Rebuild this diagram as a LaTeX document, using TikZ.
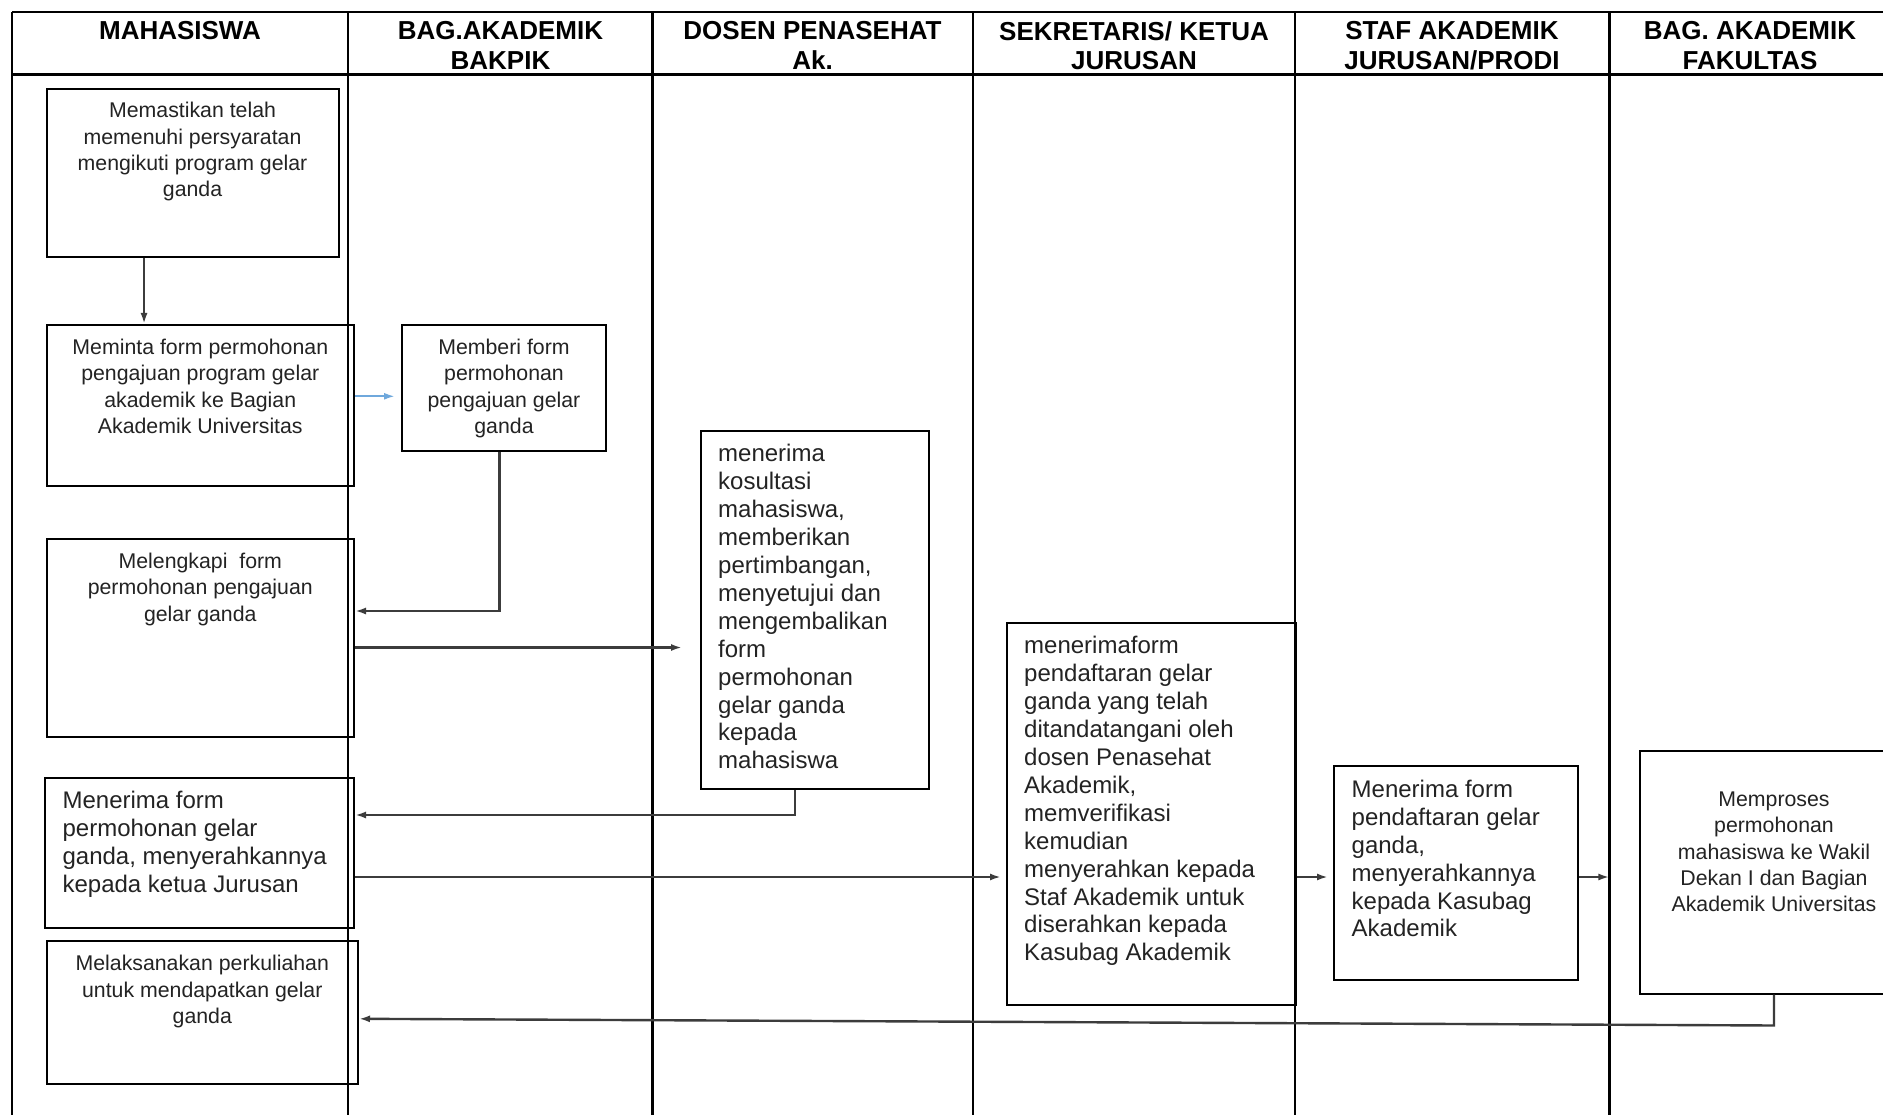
\documentclass[tikz,border=0pt]{standalone}
\usepackage{fontspec}
\setmainfont{Liberation Sans}
\usetikzlibrary{arrows.meta}

\definecolor{connc}{RGB}{60,60,60}
\definecolor{bluec}{RGB}{111,168,220}
\definecolor{txtc}{RGB}{35,35,35}

\begin{document}
\begin{tikzpicture}[x=1pt,y=-1pt,
  lane/.style={line width=2.4pt, draw=black},
  box/.style={draw=black, line width=2pt, inner sep=0pt, anchor=north west},
  head/.style={font=\fontsize{26}{29.5}\selectfont\bfseries, align=center, anchor=north, inner sep=0pt},
  smalltxt/.style={font=\fontsize{21.3}{26.4}\selectfont, text=txtc, align=center, anchor=north, inner sep=0pt},
  bigtxt/.style={font=\fontsize{24}{27.9}\selectfont, text=txtc, align=left, anchor=north west, inner sep=0pt},
  conn/.style={draw=connc, line width=2.4pt, -{Latex[length=11pt,width=7pt]}},
]
\useasboundingbox (0,0) rectangle (1883,1115);
\clip (0,0) rectangle (1883,1115);
\fill[white] (0,0) rectangle (1883,1115);

% swimlane frame
\draw[lane] (12,12) -- (1883,12);
\draw[lane] (12,74.5) -- (1883,74.5);
\foreach \lx in {12,348,652.5,973,1295,1609.5}{
  \draw[lane] (\lx,12) -- (\lx,1115);
}

% headers
\node[head] (h1) at (180,21.2) {MAHASISWA};
\node[head] (h2) at (500.5,21.2) {BAG.AKADEMIK\\BAKPIK};
\node[head] (h3) at (812.5,21.2) {DOSEN PENASEHAT\\Ak.};
\node[head] (h4) at (1134,21.2) {SEKRETARIS/ KETUA\\JURUSAN};
\node[head] (h5) at (1452,21.2) {STAF AKADEMIK\\JURUSAN/PRODI};
\node[head] (h6) at (1750,21.2) {BAG. AKADEMIK\\FAKULTAS};

% boxes
\node[box, minimum width=291.9pt, minimum height=168.1pt] (b1) at (45.6,87.7) {};
\node[box, minimum width=307.4pt, minimum height=161pt] (b2) at (45.6,324) {};
\node[box, minimum width=204pt, minimum height=126pt] (b3) at (401,324) {};
\node[box, minimum width=307.4pt, minimum height=198pt] (b4) at (45.6,538) {};
\node[box, minimum width=228pt, minimum height=358pt] (b5) at (700,430) {};
\node[box, minimum width=308.6pt, minimum height=150pt] (b6) at (44.4,777) {};
\node[box, minimum width=288.6pt, minimum height=382pt] (b7) at (1006,622) {};
\node[box, minimum width=244pt, minimum height=214pt] (b8) at (1333,765) {};
\node[box, minimum width=268pt, minimum height=243pt] (b9) at (1639,749.5) {};
\node[box, minimum width=311.4pt, minimum height=143pt] (b10) at (45.6,940.3) {};

% texts
\node[smalltxt] (t1) at ([yshift=-14.4pt]b1.north) {Memastikan telah\\memenuhi persyaratan\\mengikuti program gelar\\ganda};
\node[smalltxt] (t2) at ([yshift=-14.9pt]b2.north) {Meminta form permohonan\\pengajuan program gelar\\akademik ke Bagian\\Akademik Universitas};
\node[smalltxt] (t3) at ([yshift=-14.9pt]b3.north) {Memberi form\\permohonan\\pengajuan gelar\\ganda};
\node[smalltxt] (t4) at ([yshift=-14.9pt]b4.north) {Melengkapi\ \ form\\permohonan pengajuan\\gelar ganda};
\node[bigtxt] (t5) at ([xshift=18pt,yshift=-14.4pt]b5.north west) {menerima\\kosultasi\\mahasiswa,\\memberikan\\pertimbangan,\\menyetujui dan\\mengembalikan\\form\\permohonan\\gelar ganda\\kepada\\mahasiswa};
\node[bigtxt] (t6) at ([xshift=18pt,yshift=-14.4pt]b6.north west) {Menerima form\\permohonan gelar\\ganda, menyerahkannya\\kepada ketua Jurusan};
\node[bigtxt] (t7) at ([xshift=18pt,yshift=-14.4pt]b7.north west) {menerimaform\\pendaftaran gelar\\ganda yang telah\\ditandatangani oleh\\dosen Penasehat\\Akademik,\\memverifikasi\\kemudian\\menyerahkan kepada\\Staf Akademik untuk\\diserahkan kepada\\Kasubag Akademik};
\node[bigtxt] (t8) at ([xshift=18.5pt,yshift=-14.9pt]b8.north west) {Menerima form\\pendaftaran gelar\\ganda,\\menyerahkannya\\kepada Kasubag\\Akademik};
\node[smalltxt] (t9) at ([yshift=-42pt]b9.north) {Memproses\\permohonan\\mahasiswa ke Wakil\\Dekan I dan Bagian\\Akademik Universitas};
\node[smalltxt] (t10) at ([yshift=-14.9pt]b10.north) {Melaksanakan perkuliahan\\untuk mendapatkan gelar\\ganda};

% connectors
\draw[conn] ([xshift=-48.5pt]b1.south) -- ([xshift=-48.5pt]b1.south |- b2.north);
\draw[conn, draw=bluec, line width=2pt, shorten >=6pt] ([yshift=-72.3pt]b2.north east) -- ([yshift=-72.3pt]b2.north east -| b3.west);
\draw[conn] ([xshift=-4.6pt]b3.south) |- ([yshift=-73pt]b4.north east);
\draw[conn, shorten >=18pt] ([yshift=-109.5pt]b4.north east) -- ([yshift=-109.5pt]b4.north east -| b5.west);
\draw[conn] ([xshift=-20pt]b5.south) |- ([yshift=-38pt]b6.north east);
\draw[conn, shorten >=5pt] ([yshift=-100pt]b6.north east) -- ([yshift=-100pt]b6.north east -| b7.west);
\draw[conn, shorten >=5pt] ([yshift=-255pt]b7.north east) -- ([yshift=-255pt]b7.north east -| b8.west);
\draw[conn, shorten >=29.6pt] ([yshift=-112pt]b8.north east) -- ([yshift=-112pt]b8.north east -| b9.west);
\draw[conn] (b9.south) -- ++(0,31) -- ([yshift=-6pt]b10.east);
\end{tikzpicture}
\end{document}
